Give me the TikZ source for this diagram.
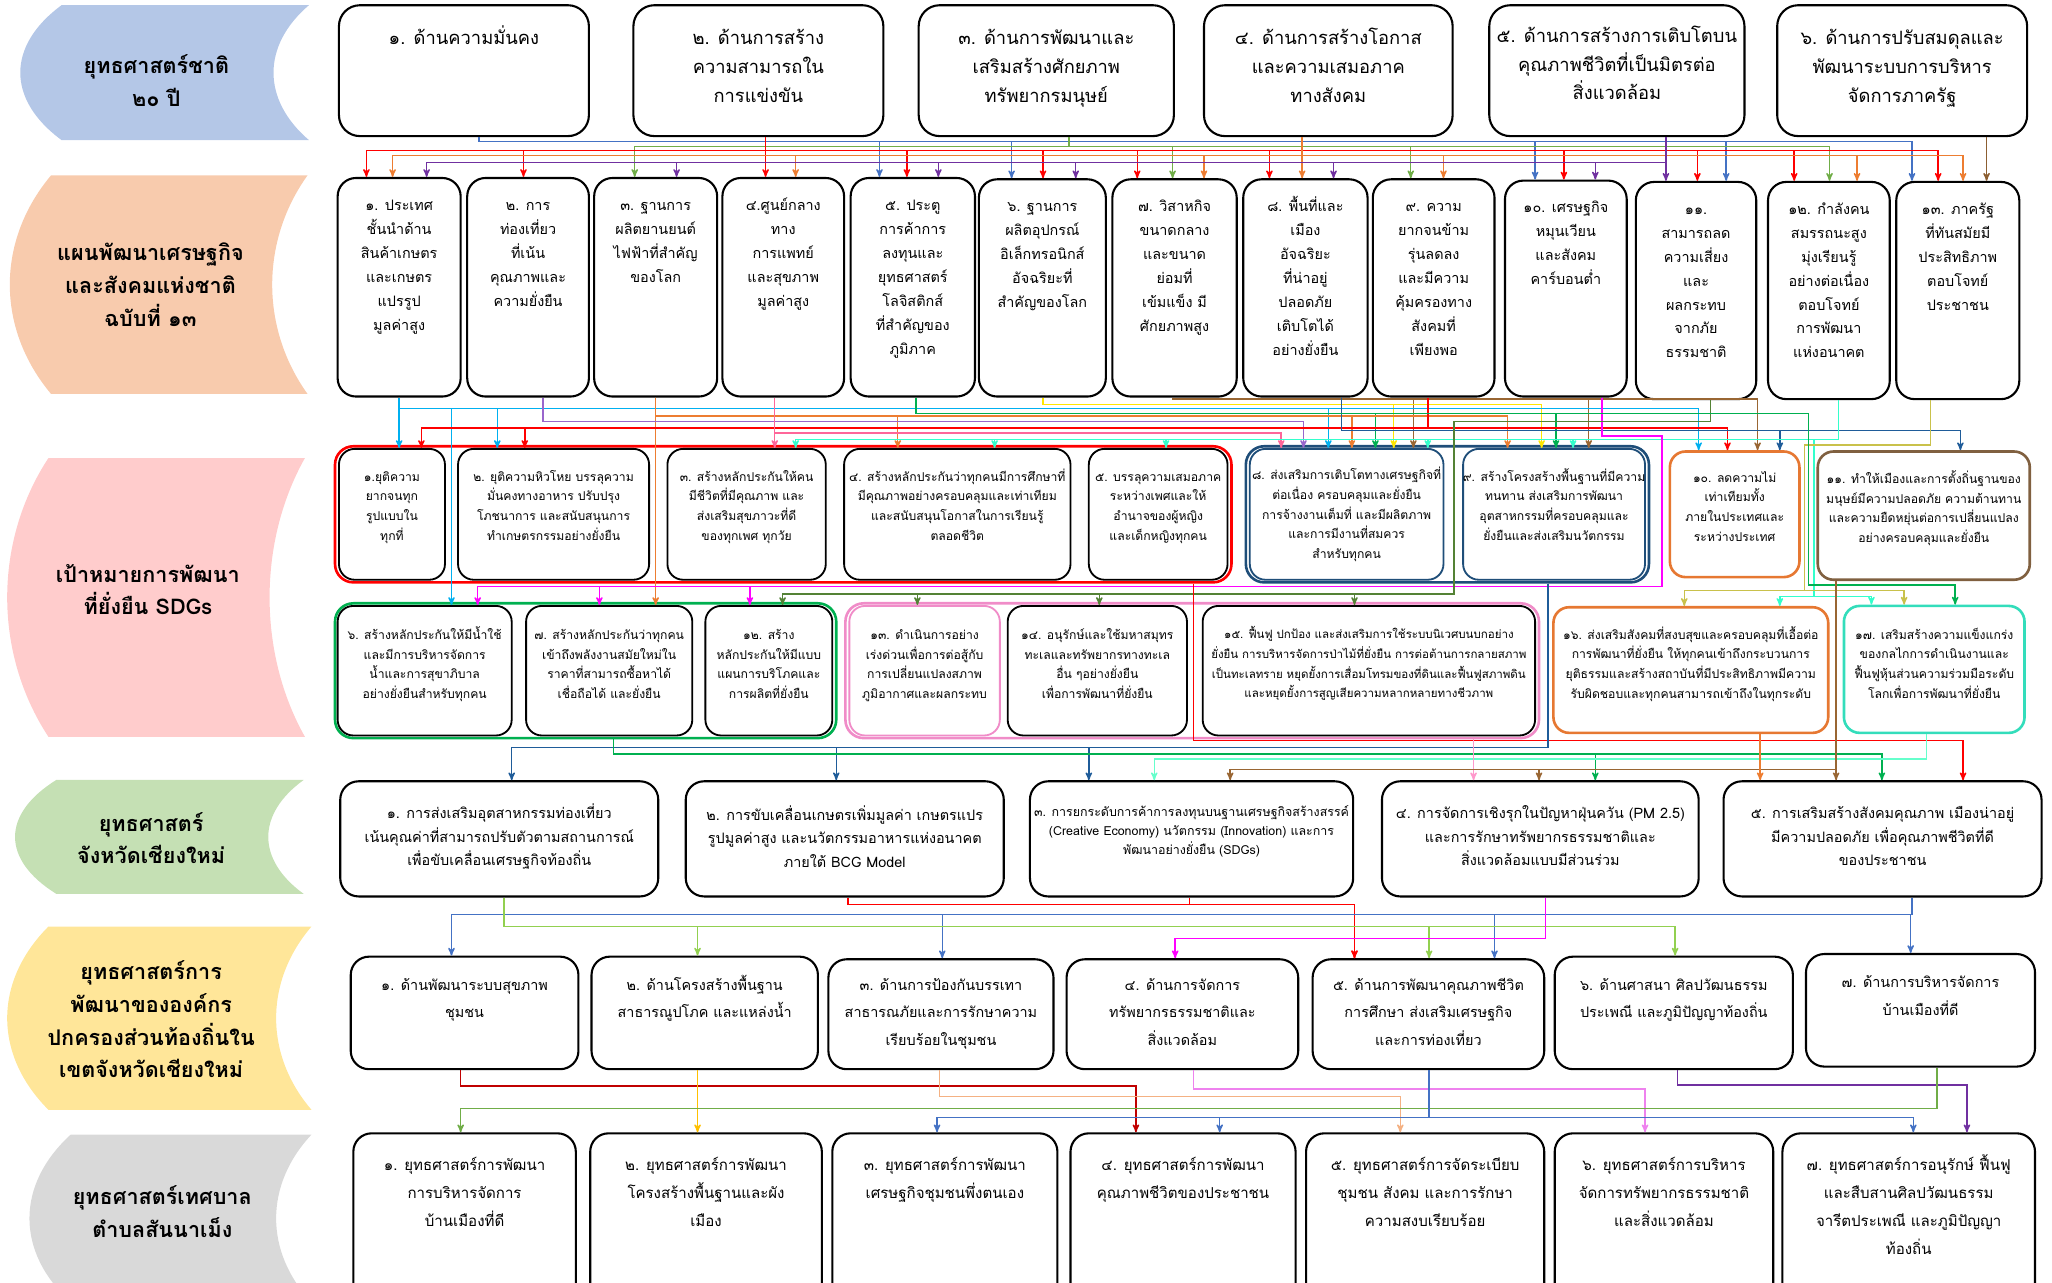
\documentclass[tikz,border=0pt]{standalone}
\usepackage{fontspec}
\setmainfont{Loma}[Script=Thai]
\usepackage{tikz}
\usetikzlibrary{arrows,positioning,fit}
\definecolor{ban_blue}{RGB}{180,199,231}
\definecolor{ban_peach}{RGB}{248,203,173}
\definecolor{ban_pink}{RGB}{255,204,204}
\definecolor{ban_green}{RGB}{197,224,180}
\definecolor{ban_yellow}{RGB}{255,230,153}
\definecolor{ban_gray}{RGB}{217,217,217}
\definecolor{edge_blue}{RGB}{68,114,196}
\definecolor{edge_green}{RGB}{112,173,71}
\definecolor{edge_red}{RGB}{255,0,0}
\definecolor{edge_orange}{RGB}{237,125,49}
\definecolor{edge_purple}{RGB}{112,48,160}
\definecolor{edge_brown}{RGB}{140,95,50}
\definecolor{edge_sky}{RGB}{0,176,240}
\definecolor{edge_lav}{RGB}{153,102,204}
\definecolor{edge_pink}{RGB}{255,102,153}
\definecolor{edge_sdg}{RGB}{0,176,80}
\definecolor{edge_yellow}{RGB}{255,230,0}
\definecolor{edge_tan}{RGB}{153,102,51}
\definecolor{edge_navy}{RGB}{31,92,153}
\definecolor{edge_magenta}{RGB}{255,0,255}
\definecolor{edge_olive}{RGB}{84,130,53}
\definecolor{edge_turq}{RGB}{51,255,204}
\definecolor{edge_khaki}{RGB}{201,193,75}
\definecolor{edge_rose}{RGB}{255,153,204}
\definecolor{edge_mint}{RGB}{102,255,204}
\definecolor{edge_dkred}{RGB}{192,0,0}
\definecolor{edge_gold}{RGB}{255,192,0}
\definecolor{edge_apricot}{RGB}{244,177,131}
\definecolor{edge_violet}{RGB}{238,130,238}
\definecolor{edge_lime}{RGB}{146,208,80}
\definecolor{frame_navy}{RGB}{31,78,121}
\definecolor{frame_pink}{RGB}{240,140,200}
\definecolor{frame_orange}{RGB}{230,120,50}
\definecolor{frame_brown}{RGB}{128,96,64}
\definecolor{frame_turq}{RGB}{51,221,187}
% ribbon on the left: name, colour, x1, y1, x2, y2, text shift, text
\newcommand\banner[8]{%
  \fill[#2] ({#3+32},#4) -- (#5,#4)
    .. controls ({#5-36},{#4+0.3*(#6-#4)}) and ({#5-36},{#6-0.3*(#6-#4)}) .. (#5,#6)
    -- ({#3+32},#6)
    .. controls ({#3-10},{#6-0.3*(#6-#4)}) and ({#3-10},{#4+0.3*(#6-#4)}) .. ({#3+32},#4) -- cycle;
  \node[bantext] (#1) at ({(#3+#5)/2-6},{(#4+#6)/2+#7}) {#8};}
% box: name, box style, x1, y1, x2, y2, top pad, text style, text
\newcommand\card[9]{%
  \node[#2, fit={(#3,#4) (#5,#6)}] (#1) {};
  \node[#8, below=#7pt of #1.north] (#1t) {\rule{0pt}{1.2em}#9};}
% bus: style, source, source x, bus y, list of x/target
\newcommand\feed[5]{%
  \foreach \tx/\tn in {#5}{\draw[#1] (#3,0 |- #2.south) -- (#3,#4) -- (\tx,#4) -- (\tx,0 |- \tn.north);}}

\begin{document}
\begin{tikzpicture}[x=1pt,y=-1pt,>=stealth',semithick]
    \tikzstyle{bantext}=[align=center, inner sep=0pt, font=\fontsize{16.5}{25}\selectfont\bfseries]
    \tikzstyle{bigbox}=[draw=black, line width=1.6pt, rounded corners=16pt, inner sep=0pt, fill=white]
    \tikzstyle{tallbox}=[draw=black, line width=1.6pt, rounded corners=14pt, inner sep=0pt, fill=white]
    \tikzstyle{sdg}=[draw=black, line width=1.4pt, rounded corners=12pt, inner sep=0pt, fill=white]
    \tikzstyle{grp}=[line width=2pt, rounded corners=14pt, inner sep=0pt]
    \tikzstyle{t1}=[align=center, inner sep=0pt, font=\fontsize{14}{22}\selectfont]
    \tikzstyle{t2}=[align=center, inner sep=0pt, font=\fontsize{11}{18.3}\selectfont]
    \tikzstyle{t3}=[align=center, inner sep=0pt, font=\fontsize{9.3}{15}\selectfont]
    \tikzstyle{t3s}=[align=center, inner sep=0pt, font=\fontsize{8.8}{15}\selectfont]
    \tikzstyle{t4}=[align=center, inner sep=0pt, font=\fontsize{11}{18}\selectfont]
    \tikzstyle{t4s}=[align=center, inner sep=0pt, font=\fontsize{9.5}{14.5}\selectfont]
    \tikzstyle{t5}=[align=center, inner sep=0pt, font=\fontsize{11}{21}\selectfont]
    \tikzstyle{t6}=[align=center, inner sep=0pt, font=\fontsize{11.5}{21.5}\selectfont]
    \tikzstyle{link}=[->, line width=1.1pt]

    \useasboundingbox (0,0) rectangle (1568,980);
    \clip (0,0) rectangle (1568,980);

    \banner{lab1}{ban_blue}{15}{4}{236}{107}{6}{ยุทธศาสตร์ชาติ\\๒๐ ปี}
    \banner{lab2}{ban_peach}{7}{134}{235}{301}{0}{แผนพัฒนาเศรษฐกิจ\\และสังคมแห่งชาติ\\ฉบับที่ ๑๓}
    \banner{lab3}{ban_pink}{5}{350}{233}{563}{-6}{เป้าหมายการพัฒนา\\ที่ยั่งยืน SDGs}
    \banner{lab4}{ban_green}{11}{596}{232}{683}{1}{ยุทธศาสตร์\\จังหวัดเชียงใหม่}
    \banner{lab5}{ban_yellow}{5}{708}{238}{848}{1}{ยุทธศาสตร์การ\\พัฒนาขององค์กร\\ปกครองส่วนท้องถิ่นใน\\เขตจังหวัดเชียงใหม่}
    \banner{lab6}{ban_gray}{22}{867}{238}{995}{-5}{ยุทธศาสตร์เทศบาล\\ตำบลสันนาเม็ง}

    % national strategy
    \card{a1}{bigbox}{259}{4}{450}{104}{14}{t1}{๑. ด้านความมั่นคง}
    \card{a2}{bigbox}{484}{4}{675}{104}{14}{t1}{๒. ด้านการสร้าง\\ความสามารถใน\\การแข่งขัน}
    \card{a3}{bigbox}{702}{4}{897}{104}{14}{t1}{๓. ด้านการพัฒนาและ\\เสริมสร้างศักยภาพ\\ทรัพยากรมนุษย์}
    \card{a4}{bigbox}{920}{4}{1110}{104}{14}{t1}{๔. ด้านการสร้างโอกาส\\และความเสมอภาค\\ทางสังคม}
    \card{a5}{bigbox}{1138}{4}{1333}{104}{12}{t1}{๕. ด้านการสร้างการเติบโตบน\\คุณภาพชีวิตที่เป็นมิตรต่อ\\สิ่งแวดล้อม}
    \card{a6}{bigbox}{1358}{4}{1549}{104}{14}{t1}{๖. ด้านการปรับสมดุลและ\\พัฒนาระบบการบริหาร\\จัดการภาครัฐ}

    % plan 13
    \card{b1}{tallbox}{258}{136}{352}{303}{12}{t2}{๑. ประเทศ\\ชั้นนำด้าน\\สินค้าเกษตร\\และเกษตร\\แปรรูป\\มูลค่าสูง}
    \card{b2}{tallbox}{357}{136}{450}{303}{12}{t2}{๒. การ\\ท่องเที่ยว\\ที่เน้น\\คุณภาพและ\\ความยั่งยืน}
    \card{b3}{tallbox}{454}{136}{548}{303}{12}{t2}{๓. ฐานการ\\ผลิตยานยนต์\\ไฟฟ้าที่สำคัญ\\ของโลก}
    \card{b4}{tallbox}{552}{136}{645}{303}{12}{t2}{๔.ศูนย์กลาง\\ทาง\\การแพทย์\\และสุขภาพ\\มูลค่าสูง}
    \card{b5}{tallbox}{650}{136}{745}{303}{12}{t2}{๕. ประตู\\การค้าการ\\ลงทุนและ\\ยุทธศาสตร์\\โลจิสติกส์\\ที่สำคัญของ\\ภูมิภาค}
    \card{b6}{tallbox}{748}{137}{845}{303}{12}{t2}{๖. ฐานการ\\ผลิตอุปกรณ์\\อิเล็กทรอนิกส์\\อัจฉริยะที่\\สำคัญของโลก}
    \card{b7}{tallbox}{850}{137}{945}{303}{12}{t2}{๗. วิสาหกิจ\\ขนาดกลาง\\และขนาด\\ย่อมที่\\เข้มแข็ง มี\\ศักยภาพสูง}
    \card{b8}{tallbox}{950}{137}{1045}{303}{12}{t2}{๘. พื้นที่และ\\เมือง\\อัจฉริยะ\\ที่น่าอยู่\\ปลอดภัย\\เติบโตได้\\อย่างยั่งยืน}
    \card{b9}{tallbox}{1049}{137}{1142}{303}{12}{t2}{๙. ความ\\ยากจนข้าม\\รุ่นลดลง\\และมีความ\\คุ้มครองทาง\\สังคมที่\\เพียงพอ}
    \card{b10}{tallbox}{1150}{138}{1243}{303}{12}{t2}{๑๐. เศรษฐกิจ\\หมุนเวียน\\และสังคม\\คาร์บอนต่ำ}
    \card{b11}{tallbox}{1250}{139}{1342}{305}{12}{t2}{๑๑.\\สามารถลด\\ความเสี่ยง\\และ\\ผลกระทบ\\จากภัย\\ธรรมชาติ}
    \card{b12}{tallbox}{1351}{139}{1444}{305}{12}{t2}{๑๒. กำลังคน\\สมรรถนะสูง\\มุ่งเรียนรู้\\อย่างต่อเนื่อง\\ตอบโจทย์\\การพัฒนา\\แห่งอนาคต}
    \card{b13}{tallbox}{1449}{139}{1543}{305}{12}{t2}{๑๓. ภาครัฐ\\ที่ทันสมัยมี\\ประสิทธิภาพ\\ตอบโจทย์\\ประชาชน}

    % SDG groups
    \node[grp, draw=edge_red, fit={(256,341) (941,445)}] (rf) {};
    \node[grp, draw=frame_navy, fit={(952,341) (1260,445)}] (bf) {};
    \node[grp, draw=edge_sdg, fit={(256,461) (639,564)}] (gf) {};
    \node[grp, draw=frame_pink, fit={(646,461) (1176,564)}] (pf) {};

    \card{g1}{sdg}{259}{343}{340}{443}{14}{t3}{๑.ยุติความ\\ยากจนทุก\\รูปแบบใน\\ทุกที่}
    \card{g2}{sdg}{350}{343}{496}{443}{14}{t3}{๒. ยุติความหิวโหย บรรลุความ\\มั่นคงทางอาหาร ปรับปรุง\\โภชนาการ และสนับสนุนการ\\ทำเกษตรกรรมอย่างยั่งยืน}
    \card{g3}{sdg}{510}{343}{631}{443}{14}{t3}{๓. สร้างหลักประกันให้คน\\มีชีวิตที่มีคุณภาพ และ\\ส่งเสริมสุขภาวะที่ดี\\ของทุกเพศ ทุกวัย}
    \card{g4}{sdg}{645}{343}{818}{443}{14}{t3}{๔. สร้างหลักประกันว่าทุกคนมีการศึกษาที่\\มีคุณภาพอย่างครอบคลุมและเท่าเทียม\\และสนับสนุนโอกาสในการเรียนรู้\\ตลอดชีวิต}
    \card{g5}{sdg}{832}{343}{938}{443}{14}{t3}{๕. บรรลุความเสมอภาค\\ระหว่างเพศและให้\\อำนาจของผู้หญิง\\และเด็กหญิงทุกคน}
    \card{g8}{sdg, draw=frame_navy}{955}{343}{1103}{443}{13}{t3}{๘. ส่งเสริมการเติบโตทางเศรษฐกิจที่\\ต่อเนื่อง ครอบคลุมและยั่งยืน\\การจ้างงานเต็มที่ และมีผลิตภาพ\\และการมีงานที่สมควร\\สำหรับทุกคน}
    \card{g9}{sdg, draw=frame_navy}{1118}{343}{1257}{443}{14}{t3}{๙. สร้างโครงสร้างพื้นฐานที่มีความ\\ทนทาน ส่งเสริมการพัฒนา\\อุตสาหกรรมที่ครอบคลุมและ\\ยั่งยืนและส่งเสริมนวัตกรรม}
    \card{g10}{sdg, line width=2pt, draw=frame_orange}{1276}{345}{1375}{441}{13}{t3}{๑๐. ลดความไม่\\เท่าเทียมทั้ง\\ภายในประเทศและ\\ระหว่างประเทศ}
    \card{g11}{sdg, line width=2pt, draw=frame_brown}{1389}{345}{1551}{443}{14}{t3}{๑๑. ทำให้เมืองและการตั้งถิ่นฐานของ\\มนุษย์มีความปลอดภัย ความต้านทาน\\และความยืดหยุ่นต่อการเปลี่ยนแปลง\\อย่างครอบคลุมและยั่งยืน}

    \card{g6}{sdg}{258}{463}{391}{562}{15}{t3}{๖. สร้างหลักประกันให้มีน้ำใช้\\และมีการบริหารจัดการ\\น้ำและการสุขาภิบาล\\อย่างยั่งยืนสำหรับทุกคน}
    \card{g7}{sdg}{402}{463}{529}{562}{15}{t3}{๗. สร้างหลักประกันว่าทุกคน\\เข้าถึงพลังงานสมัยใหม่ใน\\ราคาที่สามารถซื้อหาได้\\เชื่อถือได้ และยั่งยืน}
    \card{g12}{sdg}{539}{463}{636}{562}{15}{t3}{๑๒. สร้าง\\หลักประกันให้มีแบบ\\แผนการบริโภคและ\\การผลิตที่ยั่งยืน}
    \card{g13}{sdg, draw=frame_pink}{649}{463}{764}{562}{15}{t3}{๑๓. ดำเนินการอย่าง\\เร่งด่วนเพื่อการต่อสู้กับ\\การเปลี่ยนแปลงสภาพ\\ภูมิอากาศและผลกระทบ}
    \card{g14}{sdg}{770}{463}{907}{562}{15}{t3}{๑๔. อนุรักษ์และใช้มหาสมุทร\\ทะเลและทรัพยากรทางทะเล\\อื่น ๆอย่างยั่งยืน\\เพื่อการพัฒนาที่ยั่งยืน}
    \card{g15}{sdg}{919}{463}{1173}{562}{15}{t3s}{๑๕. ฟื้นฟู ปกป้อง และส่งเสริมการใช้ระบบนิเวศบนบกอย่าง\\ยั่งยืน การบริหารจัดการป่าไม้ที่ยั่งยืน การต่อต้านการกลายสภาพ\\เป็นทะเลทราย หยุดยั้งการเสื่อมโทรมของที่ดินและฟื้นฟูสภาพดิน\\และหยุดยั้งการสูญเสียความหลากหลายทางชีวภาพ}
    \card{g16}{sdg, line width=2pt, draw=frame_orange}{1187}{464}{1397}{560}{14}{t3}{๑๖. ส่งเสริมสังคมที่สงบสุขและครอบคลุมที่เอื้อต่อ\\การพัฒนาที่ยั่งยืน ให้ทุกคนเข้าถึงกระบวนการ\\ยุติธรรมและสร้างสถาบันที่มีประสิทธิภาพมีความ\\รับผิดชอบและทุกคนสามารถเข้าถึงในทุกระดับ}
    \card{g17}{sdg, line width=2pt, draw=frame_turq}{1409}{463}{1547}{560}{15}{t3}{๑๗. เสริมสร้างความแข็งแกร่ง\\ของกลไกการดำเนินงานและ\\ฟื้นฟูหุ้นส่วนความร่วมมือระดับ\\โลกเพื่อการพัฒนาที่ยั่งยืน}

    % Chiang Mai strategy
    \card{c1}{tallbox}{260}{597}{503}{685}{16}{t4}{๑. การส่งเสริมอุตสาหกรรมท่องเที่ยว\\เน้นคุณค่าที่สามารถปรับตัวตามสถานการณ์\\เพื่อขับเคลื่อนเศรษฐกิจท้องถิ่น}
    \card{c2}{tallbox}{524}{597}{767}{685}{17}{t4}{๒. การขับเคลื่อนเกษตรเพิ่มมูลค่า เกษตรแปร\\รูปมูลค่าสูง และนวัตกรรมอาหารแห่งอนาคต\\ภายใต้ BCG Model}
    \card{c3}{tallbox}{787}{597}{1034}{685}{16}{t4s}{๓. การยกระดับการค้าการลงทุนบนฐานเศรษฐกิจสร้างสรรค์\\(Creative Economy) นวัตกรรม (Innovation) และการ\\พัฒนาอย่างยั่งยืน (SDGs)}
    \card{c4}{tallbox}{1056}{597}{1298}{685}{16}{t4}{๔. การจัดการเชิงรุกในปัญหาฝุ่นควัน (PM 2.5)\\และการรักษาทรัพยากรธรรมชาติและ\\สิ่งแวดล้อมแบบมีส่วนร่วม}
    \card{c5}{tallbox}{1317}{597}{1560}{685}{16}{t4}{๕. การเสริมสร้างสังคมคุณภาพ เมืองน่าอยู่\\มีความปลอดภัย เพื่อคุณภาพชีวิตที่ดี\\ของประชาชน}

    % local administration
    \card{d1}{tallbox}{268}{731}{442}{817}{13}{t5}{๑. ด้านพัฒนาระบบสุขภาพ\\ชุมชน}
    \card{d2}{tallbox}{452}{731}{625}{817}{13}{t5}{๒. ด้านโครงสร้างพื้นฐาน\\สาธารณูปโภค และแหล่งน้ำ}
    \card{d3}{tallbox}{633}{733}{805}{817}{11}{t5}{๓. ด้านการป้องกันบรรเทา\\สาธารณภัยและการรักษาความ\\เรียบร้อยในชุมชน}
    \card{d4}{tallbox}{815}{733}{992}{817}{11}{t5}{๔. ด้านการจัดการ\\ทรัพยากรธรรมชาติและ\\สิ่งแวดล้อม}
    \card{d5}{tallbox}{1003}{733}{1180}{817}{11}{t5}{๕. ด้านการพัฒนาคุณภาพชีวิต\\การศึกษา ส่งเสริมเศรษฐกิจ\\และการท่องเที่ยว}
    \card{d6}{tallbox}{1188}{731}{1370}{817}{13}{t5}{๖. ด้านศาสนา ศิลปวัฒนธรรม\\ประเพณี และภูมิปัญญาท้องถิ่น}
    \card{d7}{tallbox}{1380}{729}{1555}{815}{13}{t5}{๗. ด้านการบริหารจัดการ\\บ้านเมืองที่ดี}

    % municipality
    \card{e1}{tallbox}{270}{866}{440}{1000}{15}{t6}{๑. ยุทธศาสตร์การพัฒนา\\การบริหารจัดการ\\บ้านเมืองที่ดี}
    \card{e2}{tallbox}{451}{866}{628}{1000}{15}{t6}{๒. ยุทธศาสตร์การพัฒนา\\โครงสร้างพื้นฐานและผัง\\เมือง}
    \card{e3}{tallbox}{636}{866}{808}{1000}{15}{t6}{๓. ยุทธศาสตร์การพัฒนา\\เศรษฐกิจชุมชนพึ่งตนเอง}
    \card{e4}{tallbox}{818}{866}{990}{1000}{15}{t6}{๔. ยุทธศาสตร์การพัฒนา\\คุณภาพชีวิตของประชาชน}
    \card{e5}{tallbox}{998}{866}{1180}{1000}{15}{t6}{๕. ยุทธศาสตร์การจัดระเบียบ\\ชุมชน สังคม และการรักษา\\ความสงบเรียบร้อย}
    \card{e6}{tallbox}{1188}{866}{1355}{1000}{15}{t6}{๖. ยุทธศาสตร์การบริหาร\\จัดการทรัพยากรธรรมชาติ\\และสิ่งแวดล้อม}
    \card{e7}{tallbox}{1362}{866}{1555}{1000}{15}{t6}{๗. ยุทธศาสตร์การอนุรักษ์ ฟื้นฟู\\และสืบสานศิลปวัฒนธรรม\\จารีตประเพณี และภูมิปัญญา\\ท้องถิ่น}

    % national strategy -> plan 13
    \feed{link, edge_blue}{a1}{366}{108}{672/b5, 773/b6, 1173/b10, 1319/b11, 1461/b13}
    \feed{link, edge_green}{a3}{817}{112}{485/b3, 896/b7, 1078/b9, 1398/b12}
    \feed{link, edge_red}{a2}{585}{115}{280/b1, 400/b2, 585/b4, 693/b5, 797/b6, 869/b7, 970/b8, 1195/b10, 1297/b11, 1371/b12, 1481/b13}
    \feed{link, edge_orange}{a4}{995}{119}{300/b1, 608/b4, 920/b7, 995/b8, 1103/b9, 1419/b12, 1500/b13}
    \feed{link, edge_purple}{a5}{1273}{124}{326/b1, 517/b3, 717/b5, 822/b6, 1019/b8, 1219/b10, 1273/b11}
    \feed{link, edge_brown}{a6}{1518}{124}{1518/b13}

    % plan 13 -> SDGs
    \feed{link, edge_tan}{b7}{896}{305}{1080/g8, 1214/g9, 1343/g10}
    \feed{link, edge_yellow}{b6}{797}{309}{1065/g8, 1178/g9}
    \feed{link, edge_sky}{b1}{305}{312}{305/g1, 345/g6, 380/g2, 1015/g8, 1298/g10}
    \feed{link, edge_sdg}{b5}{700}{316}{1051/g8, 1189/g9}
    \feed{link, edge_orange}{b3}{501}{318}{501/g7, 686/g4, 1033/g8, 1152/g9}
    \feed{link, edge_lav}{b2}{415}{322}{996/g8}
    \feed{link, edge_red}{b9}{1091}{327}{322/g1, 401/g2, 1320/g10}
    \feed{link, edge_navy}{b8}{1025}{329}{1360/g10, 1498/g11}
    \feed{link, edge_pink}{b4}{592}{331}{592/g3, 979/g8}
    \feed{link, edge_turq}{b12}{1405}{336}{608/g3, 760/g4, 891/g5, 1091/g8, 1202/g9}
    \foreach \tx/\tn in {365/g6, 458/g7, 573/g12}
      \draw[link, edge_magenta] (1224,0 |- b10.south) -- (1224,333) -- (1270,333) -- (1270,448) -- (\tx,448) -- (\tx,0 |- \tn.north);
    \foreach \tx/\tn in {598/g12, 701/g13, 840/g14, 1035/g15}
      \draw[link, edge_olive] (1307,0 |- b11.south) -- (1307,322) -- (1111,322) -- (1111,454) -- (\tx,454) -- (\tx,0 |- \tn.north);
    \foreach \tx/\tn in {1360/g16, 1430/g17}
      \draw[link, edge_turq] (1405,0 |- b12.south) -- (1405,336) -- (1386,336) -- (1386,456) -- (\tx,456) -- (\tx,0 |- \tn.north);
    \foreach \tx/\tn in {1287/g16, 1455/g17}
      \draw[link, edge_khaki] (1475,0 |- b13.south) -- (1475,340) -- (1379,340) -- (1379,451) -- (\tx,451) -- (\tx,0 |- \tn.north);
    \draw[link, edge_sdg] (700,0 |- b5.south) -- (700,316) -- (1382,316) -- (1382,447) -- (1494,447) -- (1494,0 |- g17.north);

    % SDGs -> Chiang Mai
    \feed{link, edge_red}{rf}{912}{566}{1500/c5}
    \feed{link, edge_navy}{bf}{1183}{571}{391/c1, 639/c2, 832/c3}
    \feed{link, edge_sdg}{gf}{469}{576}{1219/c4, 1438/c5}
    \feed{link, edge_mint}{g17}{1472}{580}{882/c3}
    \feed{link, edge_rose}{pf}{1126}{580}{1126/c4}
    \feed{link, edge_tan}{g11}{1403}{588}{940/c3, 1176/c4, 1403/c5}
    \feed{link, edge_orange}{g16}{1345}{588}{1345/c5}

    % Chiang Mai -> local administration
    \feed{link, edge_red}{c2}{648}{691}{1035/d5}
    \feed{link, edge_red}{c3}{909}{691}{1035/d5}
    \feed{link, edge_blue}{c5}{1461}{699}{345/d1, 720/d3, 1142/d5, 1460/d7}
    \feed{link, edge_lime}{c1}{385}{708}{533/d2, 1092/d5, 1280/d6}
    \feed{link, edge_magenta}{c4}{1181}{717}{898/d4}

    % local administration -> municipality
    \feed{link, edge_purple}{d6}{1282}{829}{1503/e7}
    \feed{link, edge_dkred}{d1}{352}{830}{868/e4}
    \feed{link, edge_violet}{d4}{912}{832}{1257/e6}
    \feed{link, edge_apricot}{d3}{718}{838}{1070/e5}
    \feed{link, edge_gold}{d2}{533}{840}{533/e2}
    \feed{link, edge_green}{d7}{1480}{847}{352/e1}
    \feed{link, edge_blue}{d5}{1092}{854}{716/e3, 932/e4, 1462/e7}
\end{tikzpicture}
\end{document}
